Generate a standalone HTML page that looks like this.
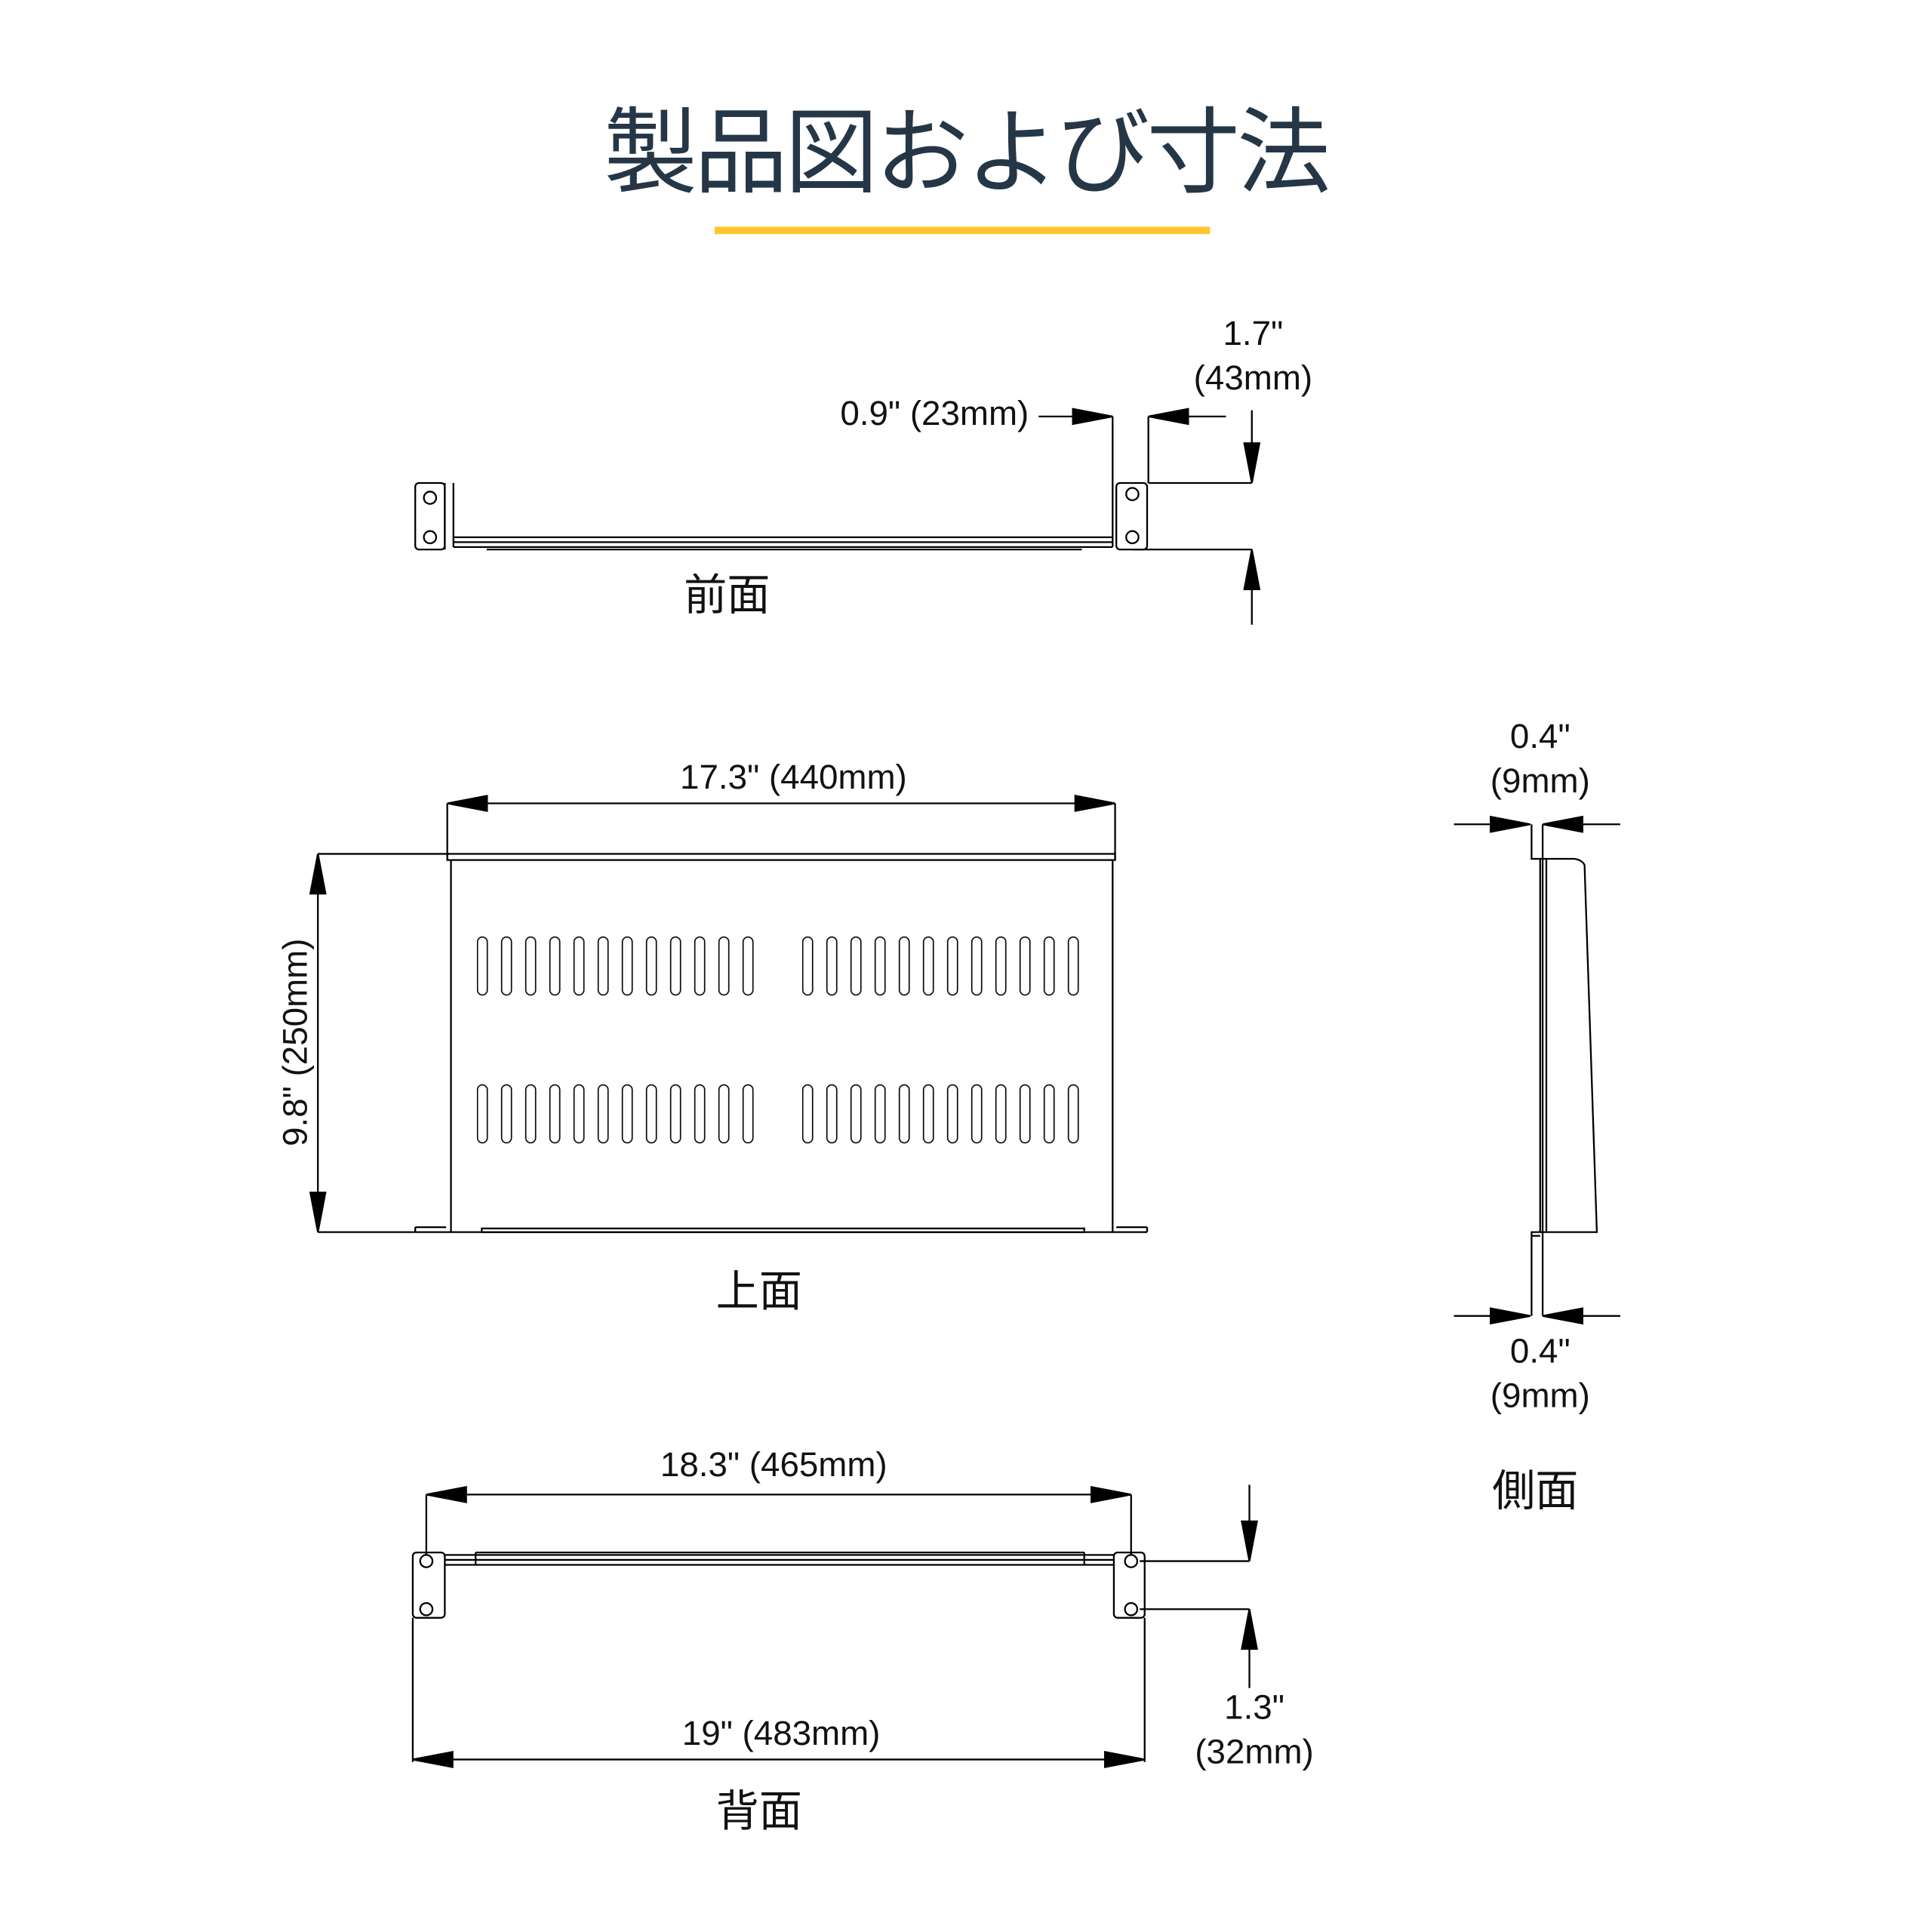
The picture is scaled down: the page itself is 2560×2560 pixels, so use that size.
<!DOCTYPE html>
<html><head><meta charset="utf-8"><style>
html,body{margin:0;padding:0;background:#fff;}
svg{display:block;}
text{font-family:"Liberation Sans","Noto Sans CJK JP",sans-serif;fill:#111;}
</style></head><body>
<svg width="2560" height="2560" viewBox="0 0 1568 1568" xmlns="http://www.w3.org/2000/svg">
<defs>
<marker id="a" markerUnits="userSpaceOnUse" markerWidth="34" markerHeight="14" refX="33" refY="7" orient="auto-start-reverse"><path d="M0,0 L33,6.3 L33,7.7 L0,14 z" fill="#000"/></marker>
<pattern id="sl" patternUnits="userSpaceOnUse" x="387" y="760" width="19.6" height="48"><rect x="0.5" y="0.5" width="8" height="47" rx="4" fill="none" stroke="#000" stroke-width="1"/></pattern>
<pattern id="sl2" patternUnits="userSpaceOnUse" x="651" y="760" width="19.6" height="48"><rect x="0.5" y="0.5" width="8" height="47" rx="4" fill="none" stroke="#000" stroke-width="1"/></pattern>
<pattern id="sl3" patternUnits="userSpaceOnUse" x="387" y="880" width="19.6" height="48"><rect x="0.5" y="0.5" width="8" height="47" rx="4" fill="none" stroke="#000" stroke-width="1"/></pattern>
<pattern id="sl4" patternUnits="userSpaceOnUse" x="651" y="880" width="19.6" height="48"><rect x="0.5" y="0.5" width="8" height="47" rx="4" fill="none" stroke="#000" stroke-width="1"/></pattern>
</defs>
<rect width="1568" height="1568" fill="#fff"/>
<text x="785" y="150" font-size="76" text-anchor="middle" textLength="590" style="fill:#253746">製品図および寸法</text>
<rect x="580" y="184" width="402" height="6" fill="#FFC72C"/>

<g stroke="#000" fill="none" stroke-width="1.4">
<!-- FRONT -->
<rect x="337" y="392" width="24" height="54" rx="3"/>
<circle cx="349" cy="404" r="5"/><circle cx="349" cy="436" r="5"/>
<rect x="906" y="392" width="25" height="54" rx="3"/>
<circle cx="919" cy="401" r="5"/><circle cx="919" cy="436" r="5"/>
<path d="M361 392 V446 M368 392 V444 M903 392 V444"/>
<path d="M368 436 H903 M368 440 H903 M368 444 H903 M395 446 H878"/>
<path d="M903 392 V338 M932 392 V338 M932 392 H1016 M918 446 H1016"/>
<path d="M843 338 H903" marker-end="url(#a)"/>
<path d="M995 338 H932" marker-end="url(#a)"/>
<path d="M1016 333 V392" marker-end="url(#a)"/>
<path d="M1016 507 V446" marker-end="url(#a)"/>

<!-- TOP -->
<path d="M363 652 H905" marker-start="url(#a)" marker-end="url(#a)"/>
<path d="M363 652 V698 M905 652 V698"/>
<rect x="363" y="693" width="542" height="5"/>
<path d="M366 698 V1000 M903 698 V1000"/>
<path d="M337 1000 H931 M337 996 H362 M906 996 H931 M931 996 V1000 M337 996 V1000"/>
<rect x="391" y="997" width="489" height="3"/>
<path d="M258 693 H365 M258 1000 H337"/>
<path d="M258 693 V1000" marker-start="url(#a)" marker-end="url(#a)"/>

<!-- SIDE -->
<path d="M1180 669 H1242" marker-end="url(#a)"/>
<path d="M1315 669 H1252" marker-end="url(#a)"/>
<path d="M1180 1068 H1242" marker-end="url(#a)"/>
<path d="M1315 1068 H1252" marker-end="url(#a)"/>
<path d="M1243 669 V697 H1250 V1000 M1252 669 V1000 M1255 697 V1000"/>
<path d="M1250 697 H1278 Q1284 698 1286 702 L1296 1000 H1243 V1068 M1252 1000 V1068 M1243 1000 V1003 H1250"/>

<!-- BACK -->
<path d="M346 1213 H918" marker-start="url(#a)" marker-end="url(#a)"/>
<path d="M346 1213 V1262 M918 1213 V1262"/>
<rect x="335" y="1260" width="26" height="53" rx="3"/>
<circle cx="346" cy="1267" r="5"/><circle cx="346" cy="1306" r="5"/>
<rect x="904" y="1260" width="25" height="53" rx="3"/>
<circle cx="918" cy="1267" r="5"/><circle cx="918" cy="1306" r="5"/>
<path d="M361 1262 H904 M386 1260 H880 M361 1266 H904 M361 1270 H904 M386 1260 V1270 M880 1260 V1270"/>
<path d="M335 1313 V1430 M929 1313 V1430"/>
<path d="M335 1428 H929" marker-start="url(#a)" marker-end="url(#a)"/>
<path d="M925 1267 H1014 M925 1306 H1014"/>
<path d="M1014 1205 V1267" marker-end="url(#a)"/>
<path d="M1014 1370 V1306" marker-end="url(#a)"/>
</g>
<rect x="387" y="760" width="235" height="48" fill="url(#sl)"/>
<rect x="651" y="760" width="235" height="48" fill="url(#sl2)"/>
<rect x="387" y="880" width="235" height="48" fill="url(#sl3)"/>
<rect x="651" y="880" width="235" height="48" fill="url(#sl4)"/>

<g font-size="28">
<text x="835" y="345" text-anchor="end">0.9" (23mm)</text>
<text x="1017" y="280" text-anchor="middle">1.7"</text>
<text x="1017" y="316" text-anchor="middle">(43mm)</text>
<text x="644" y="640" text-anchor="middle">17.3" (440mm)</text>
<text x="0" y="0" text-anchor="middle" transform="translate(249,846) rotate(-90)">9.8" (250mm)</text>
<text x="1250" y="607" text-anchor="middle">0.4"</text>
<text x="1250" y="643" text-anchor="middle">(9mm)</text>
<text x="1250" y="1106" text-anchor="middle">0.4"</text>
<text x="1250" y="1142" text-anchor="middle">(9mm)</text>
<text x="628" y="1198" text-anchor="middle">18.3" (465mm)</text>
<text x="634" y="1416" text-anchor="middle">19" (483mm)</text>
<text x="1018" y="1395" text-anchor="middle">1.3"</text>
<text x="1018" y="1431" text-anchor="middle">(32mm)</text>
</g>
<g font-size="35" text-anchor="middle">
<text x="590" y="495">前面</text>
<text x="616" y="1060">上面</text>
<text x="1246" y="1222">側面</text>
<text x="616" y="1482">背面</text>
</g>
</svg>
</body></html>
